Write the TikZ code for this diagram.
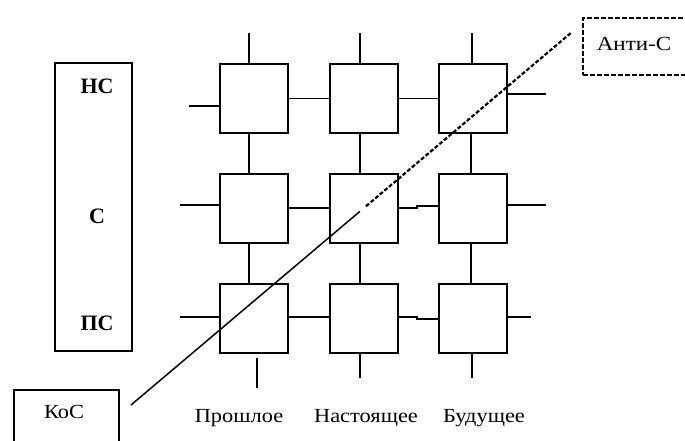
\documentclass[tikz,border=0pt]{standalone}
\usepackage{fontspec}
\setmainfont{Liberation Serif}
\usetikzlibrary{calc}
\begin{document}
\begin{tikzpicture}[x=1pt,y=-1pt,
 sq/.style={draw, line width=2pt, minimum width=68pt, minimum height=69pt, inner sep=0pt},
 box/.style={draw, line width=2pt, inner sep=0pt},
 dashbox/.style={draw, line width=2.2pt, dash pattern=on 5pt off 2pt, inner sep=0pt},
 thk/.style={line width=2.8pt},
 thn/.style={line width=1.4pt},
 lbl/.style={font=\fontsize{20}{22}\selectfont, inner sep=0pt},
 side/.style={font=\bfseries\fontsize{22}{24}\selectfont, inner sep=0pt}]
\useasboundingbox (0,0) rectangle (685,441);
% left scale box
\node[box, line width=2.2pt, minimum width=77pt, minimum height=288pt] (S) at (93.5,207) {};
\node[side] (NS) at (97,86) {НС};
\node[side] (C) at (97,216) {С};
\node[side] (PS) at (97,323) {ПС};
% squares
\node[sq] (s11) at (254,98.5) {};
\node[sq] (s12) at (363.5,98.5) {};
\node[sq] (s13) at (473,98.5) {};
\node[sq] (s21) at (254,208) {};
\node[sq] (s22) at (363.5,208) {};
\node[sq] (s23) at (473,208) {};
\node[sq] (s31) at (254,318) {};
\node[sq] (s32) at (363.5,318) {};
\node[sq] (s33) at (473,318) {};
% free ends
\coordinate (t1) at (249,33);
\coordinate (t2) at (360,33);
\coordinate (t3) at (472,33);
\coordinate (v3) at (471,0);
\coordinate (l1) at (189,106);
\coordinate (l2) at (180,205);
\coordinate (l3) at (180,317);
\coordinate (r1) at (546,94);
\coordinate (r2) at (546,205);
\coordinate (r3) at (531,317);
\coordinate (j2) at (417,208);
\coordinate (k2) at (417,206);
\coordinate (j3) at (417,317);
\coordinate (k3) at (417,319);
\coordinate (b1a) at (257,358);
\coordinate (b1b) at (257,388);
\coordinate (b2) at (360,378);
\coordinate (b3) at (472,378);
% top stubs
\draw[thk] (t1) -- (t1 |- s11.north);
\draw[thk] (t2) -- (t2 |- s12.north);
\draw[thk] (t3) -- (t3 |- s13.north);
% vertical links
\draw[thk] (t1 |- s11.south) -- (t1 |- s21.north);
\draw[thk] (t1 |- s21.south) -- (t1 |- s31.north);
\draw[thk] (t2 |- s12.south) -- (t2 |- s22.north);
\draw[thk] (t2 |- s22.south) -- (t2 |- s32.north);
\draw[thn] (v3 |- s13.south) -- (v3 |- s23.north);
\draw[thn] (v3 |- s23.south) -- (v3 |- s33.north);
% row 1
\draw[thk] (l1) -- (l1 -| s11.west);
\draw[thn] (s11.east) -- (s12.west);
\draw[thn] (s12.east) -- (s13.west);
\draw[thn] (r1 -| s13.east) -- (r1);
% row 2
\draw[thn] (l2) -- (l2 -| s21.west);
\draw[thn] (s21.east) -- (s22.west);
\draw[thn] (s22.east) -- (j2) -- (k2) -- (k2 -| s23.west);
\draw[thn] (r2 -| s23.east) -- (r2);
% row 3
\draw[thn] (l3) -- (l3 -| s31.west);
\draw[thn] (l3 -| s31.east) -- (l3 -| s32.west);
\draw[thn] (j3 -| s32.east) -- (j3) -- (k3) -- (k3 -| s33.west);
\draw[thn] (r3 -| s33.east) -- (r3);
% bottom stubs
\draw[thn] (b1a) -- (b1b);
\draw[thk] (b2 |- s32.south) -- (b2);
\draw[thk] (b3 |- s33.south) -- (b3);
% Anti-C and KoC boxes
\node[dashbox, anchor=north west, minimum width=130pt, minimum height=57pt] (A) at (582,17) {};
\node[lbl] (At) at (634,44) {\scalebox{1.15}[1]{Анти-С}};
\node[box, anchor=north west, minimum width=105pt, minimum height=70pt] (K) at (13,389) {};
\node[lbl] (Kt) at (64,412) {\scalebox{1.12}[1]{КоС}};
% diagonal
\coordinate (d0) at (131,405);
\coordinate (d1) at (572,32);
\draw[line width=1.5pt] (d0) -- ($(d0)!0.519!(d1)$);
\draw[line width=2.2pt, dash pattern=on 4pt off 2pt] ($(d0)!0.533!(d1)$) -- (d1);
% bottom labels
\node[lbl] (P) at (239,418) {\scalebox{1.12}[1]{Прошлое}};
\node[lbl] (N) at (366,418) {\scalebox{1.12}[1]{Настоящее}};
\node[lbl] (B) at (484,418) {\scalebox{1.12}[1]{Будущее}};
\end{tikzpicture}
\end{document}
